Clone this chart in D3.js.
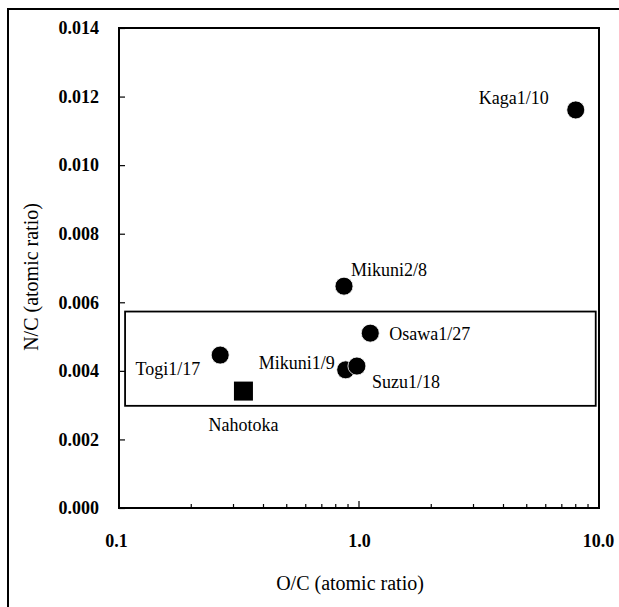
<!DOCTYPE html>
<html lang="en">
<head>
  <meta charset="UTF-8" />
  <title>N/C vs O/C</title>
  <script src="https://d3js.org/d3.v7.min.js"></script>
  <style>
    html, body { margin: 0; padding: 0; background: #fff; }
    svg { display: block; }
    svg text { font-family: "Liberation Serif", "Times New Roman", serif; }
  </style>
</head>
<body>
<svg width="619" height="607"></svg>
<script>
  // samples: O/C and N/C atomic ratios
  const names  = ["Kaga1/10", "Mikuni2/8", "Osawa1/27", "Mikuni1/9", "Suzu1/18", "Togi1/17"];
  const oc     = [8.0, 0.866, 1.114, 0.88, 0.98, 0.264];
  const nc     = [0.01161, 0.00647, 0.0051, 0.00403, 0.00414, 0.00446];
  const refName = "Nahotoka";
  const refOC = 0.33, refNC = 0.00341;
  const yTicks = [0, 0.002, 0.004, 0.006, 0.008, 0.010, 0.012, 0.014];
  const xTicks = [0.1, 1, 10];
  // highlighted region
  const boxOC = [0.106, 9.69];
  const boxNC = [0.00298, 0.00573];

  // label offsets relative to marker (dx, dy, anchor)
  const labelPos = {
    "Kaga1/10":  [-27, -6, "end"],
    "Mikuni2/8": [7, -10, "start"],
    "Osawa1/27": [19, 7, "start"],
    "Mikuni1/9": [-11, -1, "end"],
    "Suzu1/18":  [15, 22, "start"],
    "Togi1/17":  [-20, 20, "end"]
  };

  const FONT = "'Liberation Serif', 'Times New Roman', serif";
  const svg = d3.select("svg");
  const pLeft = 119, pRight = 599, pTop = 28, pBottom = 508;

  const x = d3.scaleLog().domain([0.1, 10]).range([pLeft, pRight]);
  const y = d3.scaleLinear().domain([0, 0.014]).range([pBottom, pTop]);

  // outer frame
  svg.append("rect")
    .attr("x", 8).attr("y", 9).attr("width", 640).attr("height", 640)
    .attr("fill", "none").attr("stroke", "#000").attr("stroke-width", 2);

  // plot frame
  svg.append("rect")
    .attr("x", pLeft).attr("y", pTop).attr("width", pRight - pLeft).attr("height", pBottom - pTop)
    .attr("fill", "none").attr("stroke", "#000").attr("stroke-width", 2);

  // y axis
  const yAxis = svg.append("g").attr("transform", `translate(${pLeft},0)`)
    .call(d3.axisRight(y).tickValues(yTicks).tickSize(6).tickFormat(d3.format(".3f")));
  yAxis.attr("font-family", FONT);
  yAxis.select(".domain").remove();
  yAxis.selectAll("line").attr("stroke-width", 1.2);
  yAxis.selectAll("text")
    .attr("x", -20).attr("text-anchor", "end")
    .attr("font-size", 18).attr("font-weight", "bold");

  // x axis minor ticks
  const minor = [];
  for (let d = 1; d <= 9; d++) { minor.push(d * 0.1); minor.push(d); }
  svg.append("g").selectAll("line")
    .data(minor.filter(v => v > 0.1 && v < 10))
    .join("line")
    .attr("x1", d => x(d)).attr("x2", d => x(d))
    .attr("y1", pBottom).attr("y2", d => d === 1 ? pBottom - 7 : pBottom - 4)
    .attr("stroke", "#000").attr("stroke-width", 1.2);

  const xAxis = svg.append("g").attr("transform", `translate(0,${pBottom})`)
    .call(d3.axisBottom(x).tickValues(xTicks).tickSize(0).tickFormat(d3.format(".1f")));
  xAxis.attr("font-family", FONT);
  xAxis.select(".domain").remove();
  xAxis.selectAll("text")
    .attr("y", 26).attr("dy", "0.71em")
    .attr("font-size", 18).attr("font-weight", "bold");
  xAxis.selectAll(".tick").filter(d => d === 0.1).select("text").attr("dx", -3);
  xAxis.selectAll(".tick").filter(d => d === 10).select("text").attr("dx", -1);

  // axis titles
  svg.append("text")
    .attr("x", 350).attr("y", 590)
    .attr("text-anchor", "middle").attr("font-size", 20)
    .attr("font-family", FONT)
    .text("O/C (atomic ratio)");
  svg.append("text")
    .attr("transform", "translate(38,277) rotate(-90)")
    .attr("text-anchor", "middle").attr("font-size", 20)
    .attr("font-family", FONT)
    .text("N/C (atomic ratio)");

  // region box
  svg.append("rect")
    .attr("x", x(boxOC[0])).attr("y", y(boxNC[1]))
    .attr("width", x(boxOC[1]) - x(boxOC[0]))
    .attr("height", y(boxNC[0]) - y(boxNC[1]))
    .attr("fill", "none").attr("stroke", "#000").attr("stroke-width", 1.8);

  // samples
  const pts = names.map((n, i) => ({ name: n, oc: oc[i], nc: nc[i] }));
  svg.append("g").selectAll("circle")
    .data(pts).join("circle")
    .attr("cx", d => x(d.oc)).attr("cy", d => y(d.nc))
    .attr("r", 9).attr("fill", "#000")
    .attr("stroke", "#fff").attr("stroke-width", 0.8);

  svg.append("g").attr("font-family", FONT).selectAll("text")
    .data(pts).join("text")
    .attr("x", d => x(d.oc) + labelPos[d.name][0])
    .attr("y", d => y(d.nc) + labelPos[d.name][1])
    .attr("text-anchor", d => labelPos[d.name][2])
    .attr("font-size", 18)
    .text(d => d.name);

  // reference sample (square)
  const sq = 19;
  svg.append("rect")
    .attr("x", x(refOC) - sq / 2).attr("y", y(refNC) - sq / 2)
    .attr("width", sq).attr("height", sq).attr("fill", "#000");
  svg.append("text")
    .attr("x", x(refOC)).attr("y", y(refNC) + 40)
    .attr("text-anchor", "middle").attr("font-size", 18)
    .attr("font-family", FONT)
    .text(refName);
</script>
</body>
</html>
